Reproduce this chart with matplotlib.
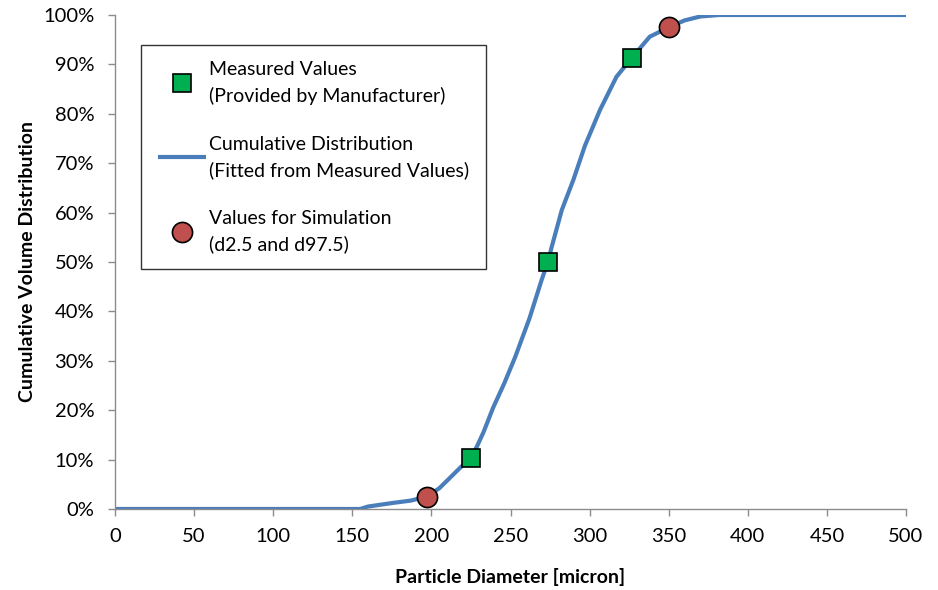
import matplotlib
matplotlib.use("Agg")
import matplotlib.pyplot as plt
from matplotlib.ticker import FuncFormatter, MultipleLocator

plt.rcParams['font.family'] = ['Lato', 'DejaVu Sans']

# Fitted cumulative distribution (diameter in micron, cumulative volume in %)
curve_d = [0, 155, 160, 175, 187, 197, 205, 212, 218, 224.8, 229, 233, 239,
           246, 253, 262, 269.7, 273.6, 276, 282.4, 289.7, 297, 306.6, 317,
           326.6, 338, 350, 360, 370, 382, 500]
curve_v = [0, 0, 0.5, 1.2, 1.7, 2.5, 4.2, 6.4, 8.3, 10.3, 12.8, 15.6, 20.5,
           25.4, 30.8, 38.6, 46.4, 50.0, 53.0, 60.5, 66.6, 73.5, 80.8, 87.5,
           91.3, 95.6, 97.5, 98.9, 99.7, 100, 100]

# Measured values provided by the manufacturer
measured_d = [224.8, 273.6, 326.6]
measured_v = [10.3, 50.0, 91.3]

# d2.5 and d97.5 used for the simulation
sim_d = [197, 350]
sim_v = [2.5, 97.5]

labels = ["Measured Values\n(Provided by Manufacturer)",
          "Cumulative Distribution\n(Fitted from Measured Values)",
          "Values for Simulation\n(d2.5 and d97.5)"]

fig = plt.figure(figsize=(9.38, 5.90), dpi=100)
ax = fig.add_axes([0.1226, 0.1373, 0.8433, 0.8373])

line, = ax.plot(curve_d, curve_v, color='#4A7EBB', lw=3.0, zorder=2,
                solid_capstyle='butt')
sq, = ax.plot(measured_d, measured_v, ls='none', marker='s', ms=13,
              mfc='#00B050', mec='black', mew=1.2, zorder=3)
ci, = ax.plot(sim_d, sim_v, ls='none', marker='o', ms=14.5,
              mfc='#C0504D', mec='black', mew=1.2, zorder=3)

ax.set_xlim(0, 500)
ax.set_ylim(0, 100)
ax.xaxis.set_major_locator(MultipleLocator(50))
ax.yaxis.set_major_locator(MultipleLocator(10))
ax.yaxis.set_major_formatter(FuncFormatter(lambda v, p: f"{v:.0f}%"))

for side in ('top', 'right'):
    ax.spines[side].set_visible(False)
for side in ('left', 'bottom'):
    ax.spines[side].set_color('#8C8C8C')
    ax.spines[side].set_linewidth(1.0)
ax.tick_params(axis='both', direction='out', length=5, width=1.0,
               color='#8C8C8C', labelsize=14.5)
ax.tick_params(axis='x', pad=9)
ax.tick_params(axis='y', pad=10)

ax.set_xlabel("Particle Diameter [micron]", fontsize=14, fontweight='bold',
              labelpad=16)
ax.set_ylabel("Cumulative Volume Distribution", fontsize=14,
              fontweight='bold', labelpad=5)

leg = ax.legend([sq, line, ci], labels, loc='upper left',
                bbox_to_anchor=(0.033, 0.94), fontsize=14, frameon=True,
                fancybox=False, edgecolor='black', handlelength=2.5,
                handletextpad=0.15, labelspacing=1.6, borderpad=0.85,
                borderaxespad=0)
leg.get_frame().set_linewidth(1.0)
for t in leg.get_texts():
    t.set_linespacing(1.55)

fig.savefig("out.png", dpi=100)
